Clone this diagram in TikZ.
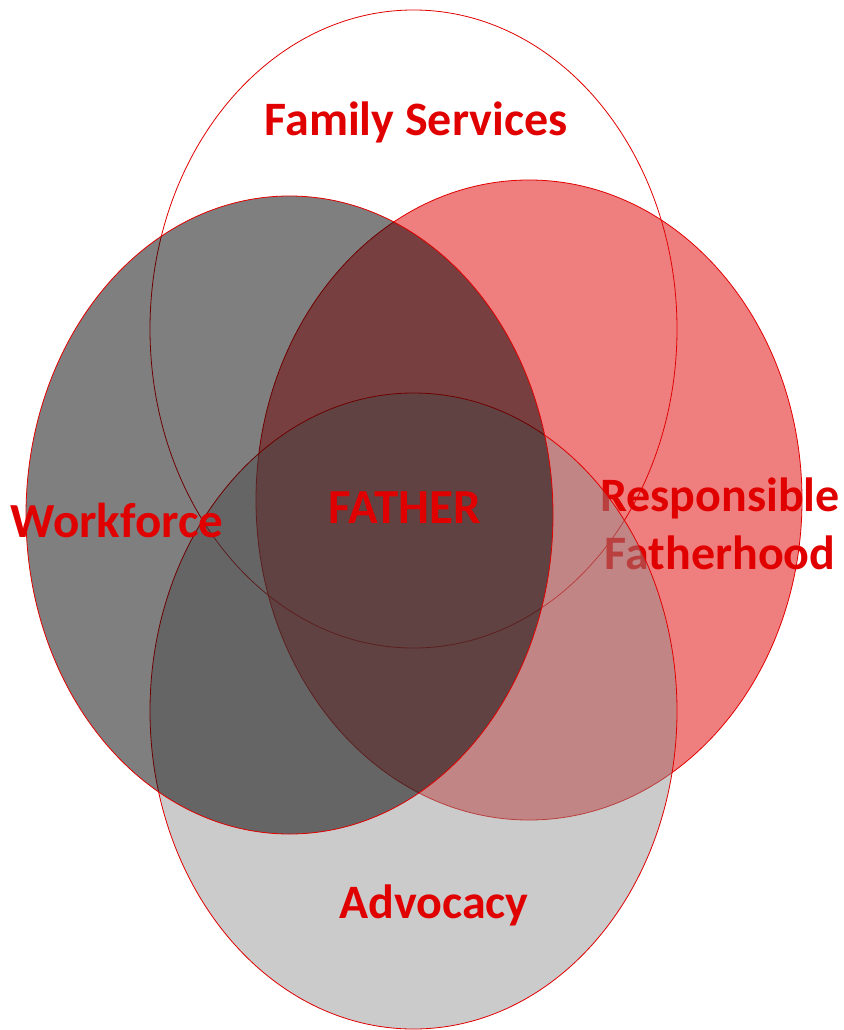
\documentclass[tikz,border=0pt]{standalone}
\usepackage{fontspec}
\setmainfont{Carlito}
\definecolor{vred}{RGB}{224,0,0}
\definecolor{advgray}{RGB}{140,140,140}
\begin{document}
\begin{tikzpicture}[x=1pt,y=-1pt,
  ring/.style={draw=vred,line width=0.8pt},
  lbl/.style={text=vred,font=\fontsize{48}{58}\selectfont\bfseries,inner sep=0pt,align=center}]
\useasboundingbox (0,0) rectangle (843,1030);
% Family Services (outline only)
\draw[ring] (413.5,329) ellipse [x radius=263.5, y radius=319];
% Responsible Fatherhood
\fill[vred,fill opacity=0.5] (529,500) ellipse [x radius=273, y radius=320];
\draw[ring] (529,500) ellipse [x radius=273, y radius=320];
\node[lbl] (rf) at (720,524) {Responsible\\Fatherhood};
% Advocacy
\fill[advgray,fill opacity=0.45] (413.5,711) ellipse [x radius=263.5, y radius=318];
\draw[ring] (413.5,711) ellipse [x radius=263.5, y radius=318];
% Workforce
\fill[black,fill opacity=0.5] (289.5,515) ellipse [x radius=263.5, y radius=319];
\draw[ring] (289.5,515) ellipse [x radius=263.5, y radius=319];
% labels
\node[lbl] (fs) at (416,122) {Family Services};
\node[lbl,font=\fontsize{49}{58}\selectfont\bfseries] (wf) at (117,520) {Workforce};
\node[lbl,font=\fontsize{49}{58}\selectfont\bfseries] (fa) at (405,508) {FATHER};
\node[lbl] (ad) at (434,905) {Advocacy};
\end{tikzpicture}
\end{document}
